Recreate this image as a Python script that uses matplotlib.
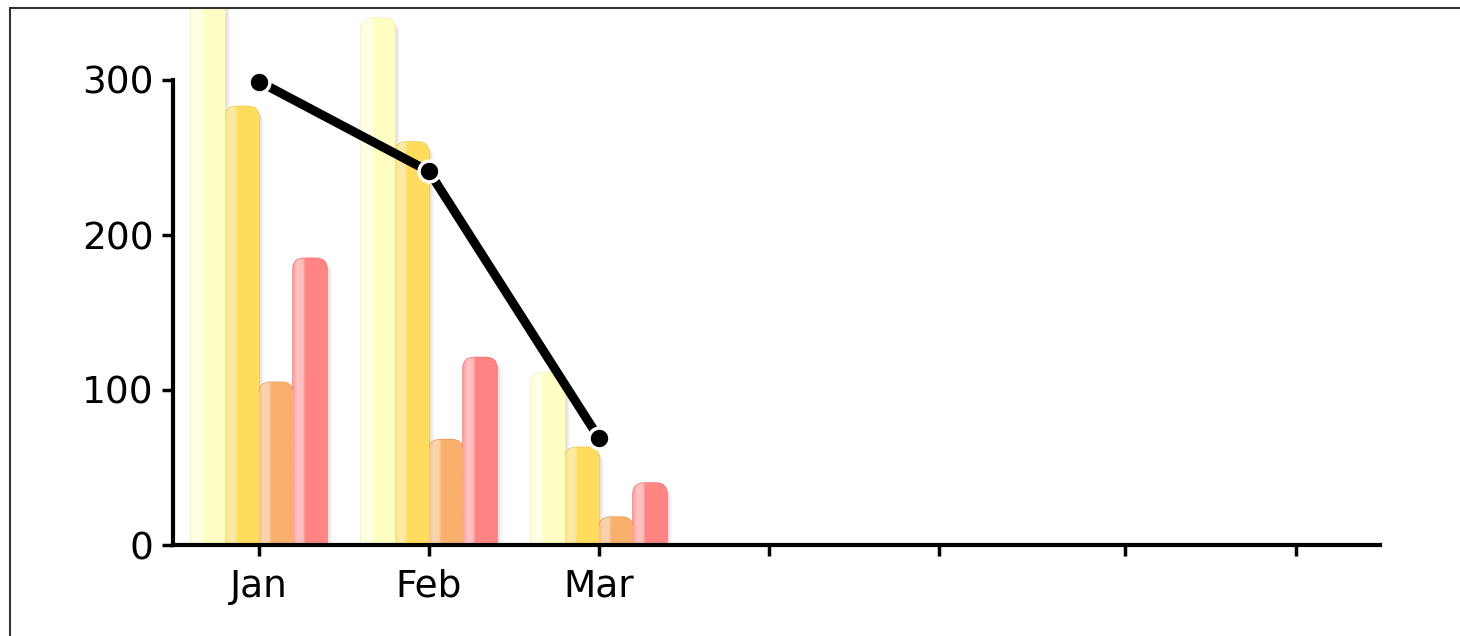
import numpy as np
import matplotlib
matplotlib.use("Agg")
import matplotlib.pyplot as plt
from matplotlib.patches import FancyBboxPatch, Rectangle
from matplotlib.colors import to_rgb

# ---- data ----
categories = ["Jan", "Feb", "Mar"]
series_a = [360, 340, 111]   # pale yellow
series_b = [283, 260, 63]    # yellow
series_c = [105, 68, 18]     # orange
series_d = [185, 121, 40]    # red
line_vals = [299, 241, 69]
tick_pos = [0, 1, 2, 3, 4, 5.094, 6.1]
tick_labels = ["Jan", "Feb", "Mar", "", "", "", ""]
y_ticks = [0, 100, 200, 300]

base_colors = ["#FFFFC4", "#FFDC5E", "#F8B06C", "#FF8585"]
light_colors = ["#FFFFEA", "#FBEAA8", "#FAD4B0", "#FFC2C2"]
edge_colors = ["#F4F0B0", "#EBC84A", "#E89A58", "#EE7070"]

W, H = 1460, 636
fig = plt.figure(figsize=(W / 100, H / 100), dpi=100)
fig.patch.set_facecolor("white")

left_px, right_px, top_px, bottom_px = 173, 1380, 8, 545
ax = fig.add_axes([left_px / W, 1 - bottom_px / H,
                   (right_px - left_px) / W, (bottom_px - top_px) / H])

x0_px, dx_px = 259, 170
xlim = ((left_px - x0_px) / dx_px, (right_px - x0_px) / dx_px)
ppu_y = (545 - 80) / 300.0
ylim = (0, (bottom_px - top_px) / ppu_y)
ax.set_xlim(*xlim)
ax.set_ylim(*ylim)

x = np.arange(len(categories))
all_series = [series_a, series_b, series_c, series_d]
bw = 0.2
offsets = [-1.5 * bw, -0.5 * bw, 0.5 * bw, 1.5 * bw]

aspect = (1 / ppu_y) / (1 / dx_px)
rx = 0.065

grad = np.linspace(0, 1, 64)
for si, (vals, off) in enumerate(zip(all_series, offsets)):
    bars = ax.bar(x + off, vals, width=bw, color="none", edgecolor="none")
    c_base = np.array(to_rgb(base_colors[si]))
    c_light = np.array(to_rgb(light_colors[si]))
    prof = np.interp(grad, [0, 0.12, 0.3, 0.36, 1.0], [0.4, 1.0, 0.9, 0.0, 0.0])
    img = (c_light[None, :] * prof[:, None] + c_base[None, :] * (1 - prof[:, None]))
    img = img[None, :, :]
    for r in bars.patches:
        bx = r.get_x()
        w, h = r.get_width(), r.get_height()
        # soft shadow
        for k, a in enumerate([0.07, 0.05, 0.04, 0.03]):
            sh = FancyBboxPatch((bx + 0.008 + k * 0.008, -20), w, h + 20 - 1 - k,
                                boxstyle=f"round,pad=0,rounding_size={rx}",
                                mutation_aspect=aspect, facecolor="#444444",
                                edgecolor="none", alpha=a, zorder=1)
            ax.add_patch(sh)
        p = FancyBboxPatch((bx, -20), w, h + 20,
                           boxstyle=f"round,pad=0,rounding_size={rx}",
                           mutation_aspect=aspect, facecolor=c_base,
                           edgecolor=edge_colors[si], linewidth=1.0, zorder=2)
        ax.add_patch(p)
        im = ax.imshow(img, extent=(bx, bx + w, 0, h + 1), aspect="auto",
                       interpolation="bilinear", zorder=2.5)
        im.set_clip_path(p)

ax.set_xlim(*xlim)
ax.set_ylim(*ylim)
ax.set_aspect("auto")

# line series
ax.plot(x, line_vals, color="black", lw=6.5, solid_capstyle="butt",
        solid_joinstyle="miter", zorder=5)
ax.plot(x, line_vals, "o", ms=15, mfc="black", mec="white", mew=2.5, zorder=6)

# axes styling
for s in ["top", "right"]:
    ax.spines[s].set_visible(False)
ax.spines["left"].set_bounds(0, 300)
ax.spines["left"].set_linewidth(3)
ax.spines["bottom"].set_linewidth(3)
ax.spines["left"].set_zorder(7)
ax.spines["bottom"].set_zorder(7)
ax.set_yticks(y_ticks)
ax.set_yticklabels([str(v) for v in y_ticks])
ax.set_xticks(tick_pos)
ax.set_xticklabels(tick_labels)
ax.tick_params(axis="both", length=8, width=2.5, color="black",
               labelsize=27, labelcolor="black")
ax.tick_params(axis="y", pad=6)
ax.tick_params(axis="x", pad=9)
ax.patch.set_alpha(0)

# outer border
fig.patches.append(Rectangle((10 / W, -0.1), 1.2, (1 - 8 / H) + 0.1,
                             transform=fig.transFigure, fill=False,
                             lw=1.5, ec="#333333", zorder=0))

fig.savefig("out.png", dpi=100)
